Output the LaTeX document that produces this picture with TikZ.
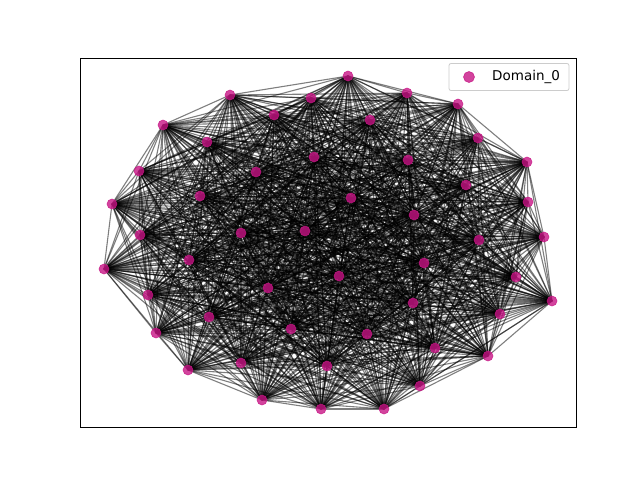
\documentclass[tikz,border=0pt]{standalone}
\usepackage{fontspec}
\setmainfont{DejaVu Sans}
\definecolor{nodecol}{HTML}{C71585}
\begin{document}
\begin{tikzpicture}[x=1pt,y=-1pt,
  edge/.style={black,opacity=0.5,line width=1.1pt},
  dot/.style={circle,fill=nodecol,fill opacity=0.8,draw=nodecol,draw opacity=0.8,line width=0.6pt,minimum size=10pt,inner sep=0pt},
  legendbox/.style={draw=black!20,rounded corners=2pt,fill=white,fill opacity=0.8,line width=0.8pt}]
\useasboundingbox (0,0) rectangle (640,480);
\foreach \k/\x/\y in {
1/348/76, 2/407/93, 3/458/104, 4/311/98, 5/230/95, 6/274/115, 7/370/120, 8/478/138,
9/163/125, 10/207/142, 11/314/157, 12/408/160, 13/527/162, 14/139/171, 15/256/172, 16/466/185,
17/112/204, 18/200/196, 19/351/198, 20/528/202, 21/414/215, 22/140/235, 23/241/233, 24/305/231,
25/479/240, 26/544/237, 27/104/269, 28/189/260, 29/424/263, 30/339/276, 31/516/277, 32/268/288,
33/148/295, 34/552/301, 35/413/303, 36/500/314, 37/209/317, 38/156/333, 39/291/329, 40/367/334,
41/435/348, 42/488/356, 43/241/363, 44/327/366, 45/188/370, 46/420/386, 47/262/400, 48/321/409, 49/384/409}
{\coordinate (n\k) at (\x,\y);}
\foreach \i in {1,...,48}{
  \pgfmathtruncatemacro\s{\i+1}
  \foreach \j in {\s,...,49}{
    \draw[edge] (n\i) -- (n\j);
  }
}
\foreach \k in {1,...,49}{\node[dot] (d\k) at (n\k) {};}
\draw[line width=1pt] (80,58) rectangle (576,427);
\node[legendbox,minimum width=120pt,minimum height=27pt] (leg) at (509,77) {};
\node[dot,minimum size=11pt] (legdot) at (469,77) {};
\node[anchor=west,inner sep=0pt,font=\fontsize{13.5}{16}\selectfont] (legtxt) at (492,77) {Domain\_0};
\end{tikzpicture}
\end{document}
